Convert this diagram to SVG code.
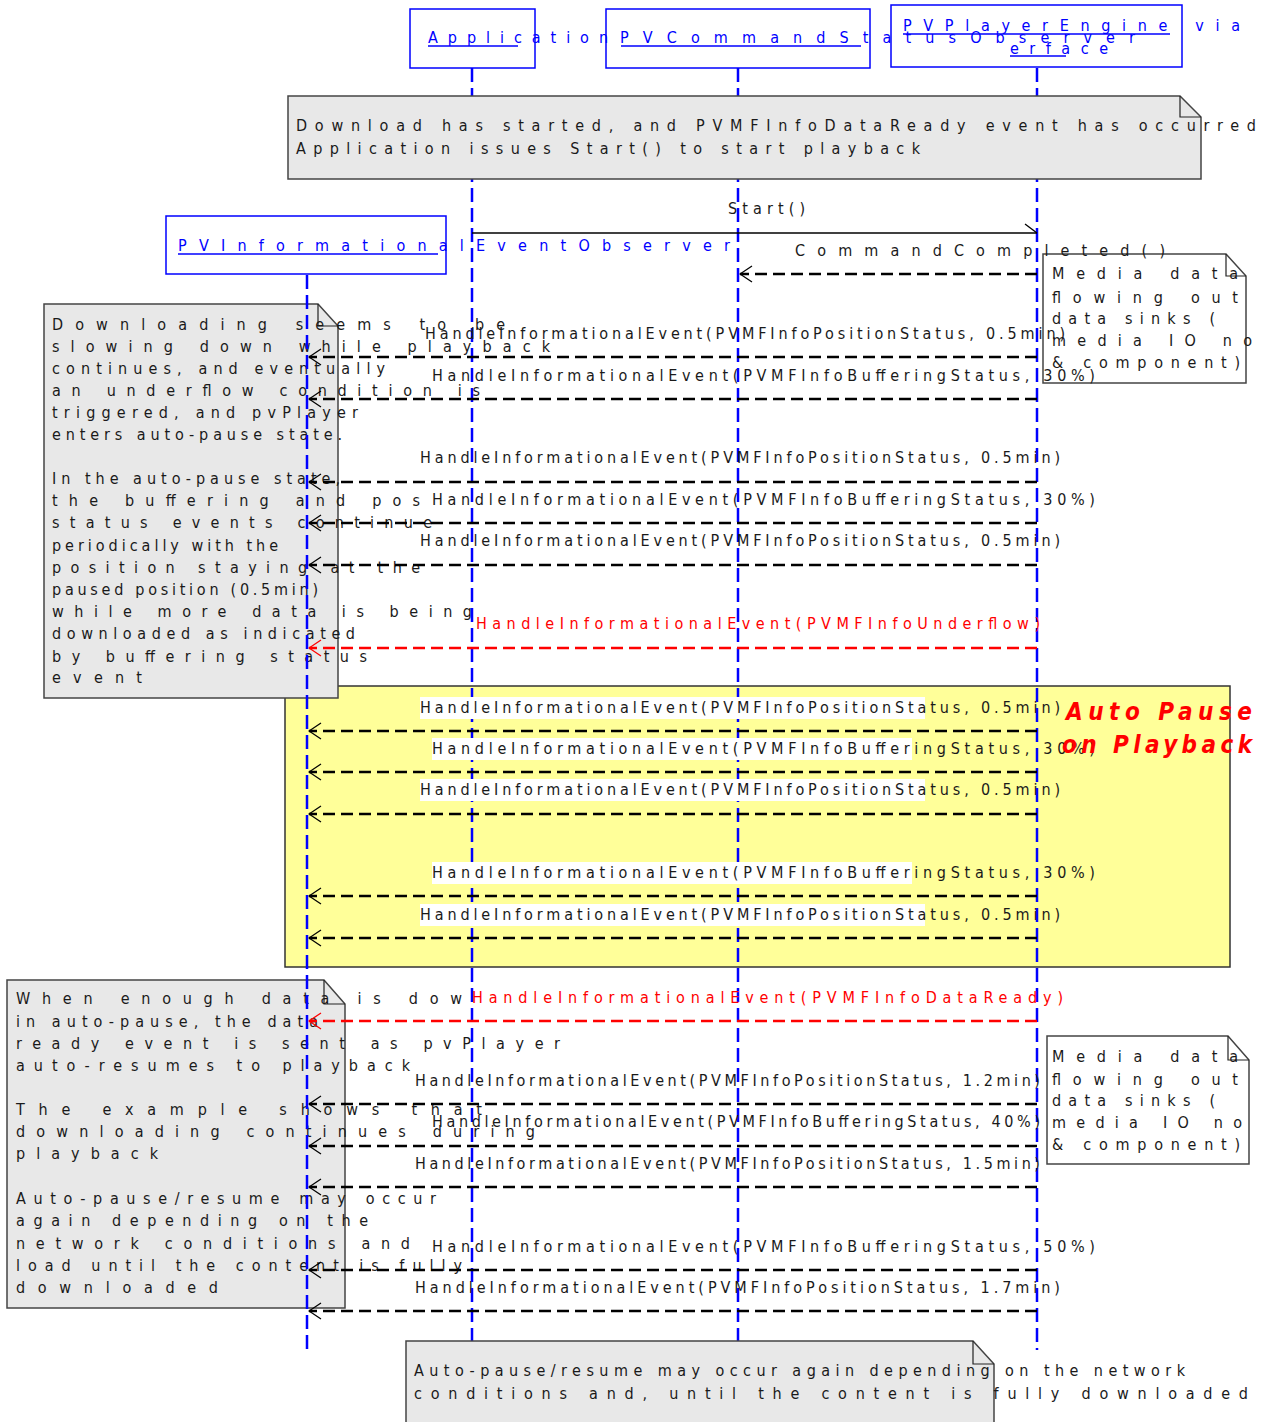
<svg xmlns="http://www.w3.org/2000/svg" width="1263" height="1422" viewBox="0 0 1263 1422">
<style>
text{font-family:"DejaVu Sans Condensed","Liberation Sans Narrow","Liberation Sans",Arial,sans-serif;font-size:16px;fill:#1a1a1a}
.h{fill:#0000ff}
.r{fill:#ff0000}
.big{font-size:24px;font-weight:bold;font-style:italic;fill:#ff0000}
.note{fill:#e8e8e8;stroke:#444;stroke-width:1.5}
.wnote{fill:#fff;stroke:#444;stroke-width:1.5}
.fold{fill:none;stroke:#222;stroke-width:1.2}
.head{fill:#fff;stroke:#0000ff;stroke-width:1.5}
.ul{stroke:#0000ff;stroke-width:1.5}
.life{stroke:#0000ff;stroke-width:2.5;stroke-dasharray:14 6;fill:none}
.msg{stroke:#000;stroke-width:2.5;stroke-dasharray:12 6;fill:none}
.msgr{stroke:#ff0000;stroke-width:2.5;stroke-dasharray:12 6;fill:none}
.wb{fill:#fff}
</style>
<defs>
<marker id="ah" viewBox="0 0 14 18" refX="13" refY="9" markerWidth="14" markerHeight="18" markerUnits="userSpaceOnUse" orient="auto">
<path d="M1,1 L13,9 L1,17" fill="none" stroke="#000" stroke-width="1.3" stroke-dasharray="none"/>
</marker>
<marker id="ahr" viewBox="0 0 14 18" refX="13" refY="9" markerWidth="14" markerHeight="18" markerUnits="userSpaceOnUse" orient="auto">
<path d="M1,1 L13,9 L1,17" fill="none" stroke="#ff0000" stroke-width="1.3" stroke-dasharray="none"/>
</marker>
</defs>

<g id="autopause-frame">
<rect x="285" y="686" width="945" height="281" fill="#ffff99" stroke="#333" stroke-width="1.5"/>
</g>

<g id="note-underflow">
<path class="note" d="M44,304 H318 L338,326 V698 H44 Z"/>
<path class="fold" d="M318,304 V326 H338"/>
<text x="52" y="330" textLength="453" lengthAdjust="spacing">Downloading seems to be</text>
<text x="52" y="352" textLength="498" lengthAdjust="spacing">slowing down while playback</text>
<text x="52" y="374" textLength="333" lengthAdjust="spacing">continues, and eventually</text>
<text x="52" y="396" textLength="428" lengthAdjust="spacing">an underflow condition is</text>
<text x="52" y="418" textLength="306" lengthAdjust="spacing">triggered, and pvPlayer</text>
<text x="52" y="440" textLength="290" lengthAdjust="spacing">enters auto-pause state.</text>
<text x="52" y="484" textLength="288" lengthAdjust="spacing">In the auto-pause state,</text>
<text x="52" y="506" textLength="368" lengthAdjust="spacing">the buffering and pos</text>
<text x="52" y="528" textLength="380" lengthAdjust="spacing">status events continue</text>
<text x="52" y="551" textLength="226" lengthAdjust="spacing">periodically with the</text>
<text x="52" y="573" textLength="368" lengthAdjust="spacing">position staying at the</text>
<text x="52" y="595" textLength="266" lengthAdjust="spacing">paused position (0.5min)</text>
<text x="52" y="617" textLength="420" lengthAdjust="spacing">while more data is being</text>
<text x="52" y="639" textLength="303" lengthAdjust="spacing">downloaded as indicated</text>
<text x="52" y="662" textLength="315" lengthAdjust="spacing">by buffering status</text>
<text x="52" y="683" textLength="90" lengthAdjust="spacing">event</text>
</g>

<g id="note-dataready">
<path class="note" d="M7,980 H324 L345,1004 V1308 H7 Z"/>
<path class="fold" d="M324,980 V1004 H345"/>
<text x="16" y="1004" textLength="446" lengthAdjust="spacing">When enough data is dow</text>
<text x="16" y="1027" textLength="302" lengthAdjust="spacing">in auto-pause, the data</text>
<text x="16" y="1049" textLength="544" lengthAdjust="spacing">ready event is sent as pvPlayer</text>
<text x="16" y="1071" textLength="394" lengthAdjust="spacing">auto-resumes to playback</text>
<text x="16" y="1115" textLength="466" lengthAdjust="spacing">The example shows that</text>
<text x="16" y="1137" textLength="519" lengthAdjust="spacing">downloading continues during</text>
<text x="16" y="1159" textLength="142" lengthAdjust="spacing">playback</text>
<text x="16" y="1204" textLength="420" lengthAdjust="spacing">Auto-pause/resume may occur</text>
<text x="16" y="1226" textLength="352" lengthAdjust="spacing">again depending on the</text>
<text x="16" y="1249" textLength="394" lengthAdjust="spacing">network conditions and</text>
<text x="16" y="1271" textLength="446" lengthAdjust="spacing">load until the content is fully</text>
<text x="16" y="1293" textLength="202" lengthAdjust="spacing">downloaded</text>
</g>

<g id="note-mediadata-1">
<path class="wnote" d="M1043,254 H1226 L1246,276 V383 H1043 Z"/>
<path class="fold" d="M1226,254 V276 H1246"/>
<text x="1052" y="279" textLength="186" lengthAdjust="spacing">Media data</text>
<text x="1052" y="303" textLength="186" lengthAdjust="spacing">flowing out</text>
<text x="1052" y="324" textLength="163" lengthAdjust="spacing">data sinks (</text>
<text x="1052" y="346" textLength="200" lengthAdjust="spacing">media IO no</text>
<text x="1052" y="368" textLength="188" lengthAdjust="spacing">&amp; component)</text>
</g>

<g id="lifelines">
<line class="life" x1="472" y1="68" x2="472" y2="1345"/>
<line class="life" x1="738" y1="68" x2="738" y2="1345"/>
<line class="life" x1="1037" y1="68" x2="1037" y2="1350"/>
<line class="life" x1="307" y1="275" x2="307" y2="1350"/>
</g>

<g id="note-start">
<path class="note" d="M288,96 H1180 L1201,117 V179 H288 Z"/>
<path class="fold" d="M1180,96 V117 H1201"/>
<text x="296" y="131" textLength="960" lengthAdjust="spacing">Download has started, and PVMFInfoDataReady event has occurred</text>
<text x="296" y="154" textLength="624" lengthAdjust="spacing">Application issues Start() to start playback</text>
</g>

<g id="note-bottom">
<path class="note" d="M406,1341 H973 L994,1364 V1430 H406 Z"/>
<path class="fold" d="M973,1341 V1364 H994"/>
<text x="414" y="1376" textLength="771" lengthAdjust="spacing">Auto-pause/resume may occur again depending on the network</text>
<text x="414" y="1399" textLength="834" lengthAdjust="spacing">conditions and, until the content is fully downloaded</text>
</g>

<g id="node-pvplayerengine">
<rect class="head" x="891" y="5" width="291" height="62"/>
<text class="h" x="903" y="31" textLength="337" lengthAdjust="spacing">PVPlayerEngine via</text>
<line class="ul" x1="903" y1="34" x2="1170" y2="34"/>
<text class="h" x="1010" y="54" textLength="98" lengthAdjust="spacing">erface</text>
<line class="ul" x1="1010" y1="56" x2="1066" y2="56"/>
</g>

<g id="node-pvcommandstatusobserver">
<rect class="head" x="606" y="9" width="264" height="59"/>
<text class="h" x="620" y="43" textLength="515" lengthAdjust="spacing">PVCommandStatusObserver</text>
<line class="ul" x1="621" y1="46" x2="861" y2="46"/>
</g>

<g id="node-application">
<rect class="head" x="410" y="9" width="125" height="59"/>
<text class="h" x="428" y="43" textLength="180" lengthAdjust="spacing">Application</text>
<line class="ul" x1="428" y1="46" x2="518" y2="46"/>
</g>

<g id="node-pvinformationaleventobserver">
<rect class="head" x="166" y="216" width="280" height="58"/>
<text class="h" x="178" y="251" textLength="552" lengthAdjust="spacing">PVInformationalEventObserver</text>
<line class="ul" x1="178" y1="254" x2="438" y2="254"/>
</g>

<g id="connectors">
<line x1="472" y1="233" x2="1037" y2="233" stroke="#000" stroke-width="1.3"/>
<path d="M1025,224 L1037,233" stroke="#000" stroke-width="1.3" fill="none"/>
<text x="728" y="214" textLength="77" lengthAdjust="spacing">Start()</text>

<line class="msg" x1="1037" y1="274" x2="740" y2="274" marker-end="url(#ah)"/>
<text x="795" y="256" textLength="370" lengthAdjust="spacing">CommandCompleted()</text>

<line class="msg" x1="1037" y1="357" x2="309" y2="357" marker-end="url(#ah)"/>
<text x="425" y="339" textLength="640" lengthAdjust="spacing">HandleInformationalEvent(PVMFInfoPositionStatus, 0.5min)</text>
<line class="msg" x1="1037" y1="399" x2="309" y2="399" marker-end="url(#ah)"/>
<text x="432" y="381" textLength="663" lengthAdjust="spacing">HandleInformationalEvent(PVMFInfoBufferingStatus, 30%)</text>
<line class="msg" x1="1037" y1="482" x2="309" y2="482" marker-end="url(#ah)"/>
<text x="420" y="463" textLength="640" lengthAdjust="spacing">HandleInformationalEvent(PVMFInfoPositionStatus, 0.5min)</text>
<line class="msg" x1="1037" y1="523" x2="309" y2="523" marker-end="url(#ah)"/>
<text x="432" y="505" textLength="663" lengthAdjust="spacing">HandleInformationalEvent(PVMFInfoBufferingStatus, 30%)</text>
<line class="msg" x1="1037" y1="565" x2="309" y2="565" marker-end="url(#ah)"/>
<text x="420" y="546" textLength="640" lengthAdjust="spacing">HandleInformationalEvent(PVMFInfoPositionStatus, 0.5min)</text>
<line class="msgr" x1="1037" y1="648" x2="309" y2="648" marker-end="url(#ahr)"/>
<text class="r" x="476" y="629" textLength="564" lengthAdjust="spacing">HandleInformationalEvent(PVMFInfoUnderflow)</text>

<rect class="wb" x="420" y="697" width="505" height="22"/>
<line class="msg" x1="1037" y1="731" x2="309" y2="731" marker-end="url(#ah)"/>
<text x="420" y="713" textLength="640" lengthAdjust="spacing">HandleInformationalEvent(PVMFInfoPositionStatus, 0.5min)</text>
<rect class="wb" x="432" y="738" width="480" height="22"/>
<line class="msg" x1="1037" y1="772" x2="309" y2="772" marker-end="url(#ah)"/>
<text x="432" y="754" textLength="663" lengthAdjust="spacing">HandleInformationalEvent(PVMFInfoBufferingStatus, 30%)</text>
<rect class="wb" x="420" y="779" width="505" height="22"/>
<line class="msg" x1="1037" y1="814" x2="309" y2="814" marker-end="url(#ah)"/>
<text x="420" y="795" textLength="640" lengthAdjust="spacing">HandleInformationalEvent(PVMFInfoPositionStatus, 0.5min)</text>
<rect class="wb" x="432" y="862" width="480" height="22"/>
<line class="msg" x1="1037" y1="896" x2="309" y2="896" marker-end="url(#ah)"/>
<text x="432" y="878" textLength="663" lengthAdjust="spacing">HandleInformationalEvent(PVMFInfoBufferingStatus, 30%)</text>
<rect class="wb" x="420" y="904" width="505" height="22"/>
<line class="msg" x1="1037" y1="938" x2="309" y2="938" marker-end="url(#ah)"/>
<text x="420" y="920" textLength="640" lengthAdjust="spacing">HandleInformationalEvent(PVMFInfoPositionStatus, 0.5min)</text>

<line class="msgr" x1="1037" y1="1021" x2="309" y2="1021" marker-end="url(#ahr)"/>
<text class="r" x="472" y="1003" textLength="591" lengthAdjust="spacing">HandleInformationalEvent(PVMFInfoDataReady)</text>
<line class="msg" x1="1037" y1="1104" x2="309" y2="1104" marker-end="url(#ah)"/>
<text x="415" y="1086" textLength="625" lengthAdjust="spacing">HandleInformationalEvent(PVMFInfoPositionStatus, 1.2min)</text>
<line class="msg" x1="1037" y1="1146" x2="309" y2="1146" marker-end="url(#ah)"/>
<text x="432" y="1127" textLength="608" lengthAdjust="spacing">HandleInformationalEvent(PVMFInfoBufferingStatus, 40%)</text>
<line class="msg" x1="1037" y1="1187" x2="309" y2="1187" marker-end="url(#ah)"/>
<text x="415" y="1169" textLength="625" lengthAdjust="spacing">HandleInformationalEvent(PVMFInfoPositionStatus, 1.5min)</text>
<line class="msg" x1="1037" y1="1270" x2="309" y2="1270" marker-end="url(#ah)"/>
<text x="432" y="1252" textLength="663" lengthAdjust="spacing">HandleInformationalEvent(PVMFInfoBufferingStatus, 50%)</text>
<line class="msg" x1="1037" y1="1311" x2="309" y2="1311" marker-end="url(#ah)"/>
<text x="415" y="1293" textLength="645" lengthAdjust="spacing">HandleInformationalEvent(PVMFInfoPositionStatus, 1.7min)</text>
</g>

<g id="note-mediadata-2">
<path class="wnote" d="M1047,1036 H1228 L1249,1060 V1164 H1047 Z"/>
<path class="fold" d="M1228,1036 V1060 H1249"/>
<text x="1052" y="1062" textLength="186" lengthAdjust="spacing">Media data</text>
<text x="1052" y="1085" textLength="186" lengthAdjust="spacing">flowing out</text>
<text x="1052" y="1106" textLength="163" lengthAdjust="spacing">data sinks (</text>
<text x="1052" y="1128" textLength="190" lengthAdjust="spacing">media IO no</text>
<text x="1052" y="1150" textLength="188" lengthAdjust="spacing">&amp; component)</text>
</g>

<g id="frame-label">
<text class="big" x="1066" y="720" textLength="186" lengthAdjust="spacing">Auto Pause</text>
<text class="big" x="1062" y="753" textLength="190" lengthAdjust="spacing">on Playback</text>
</g>
</svg>
